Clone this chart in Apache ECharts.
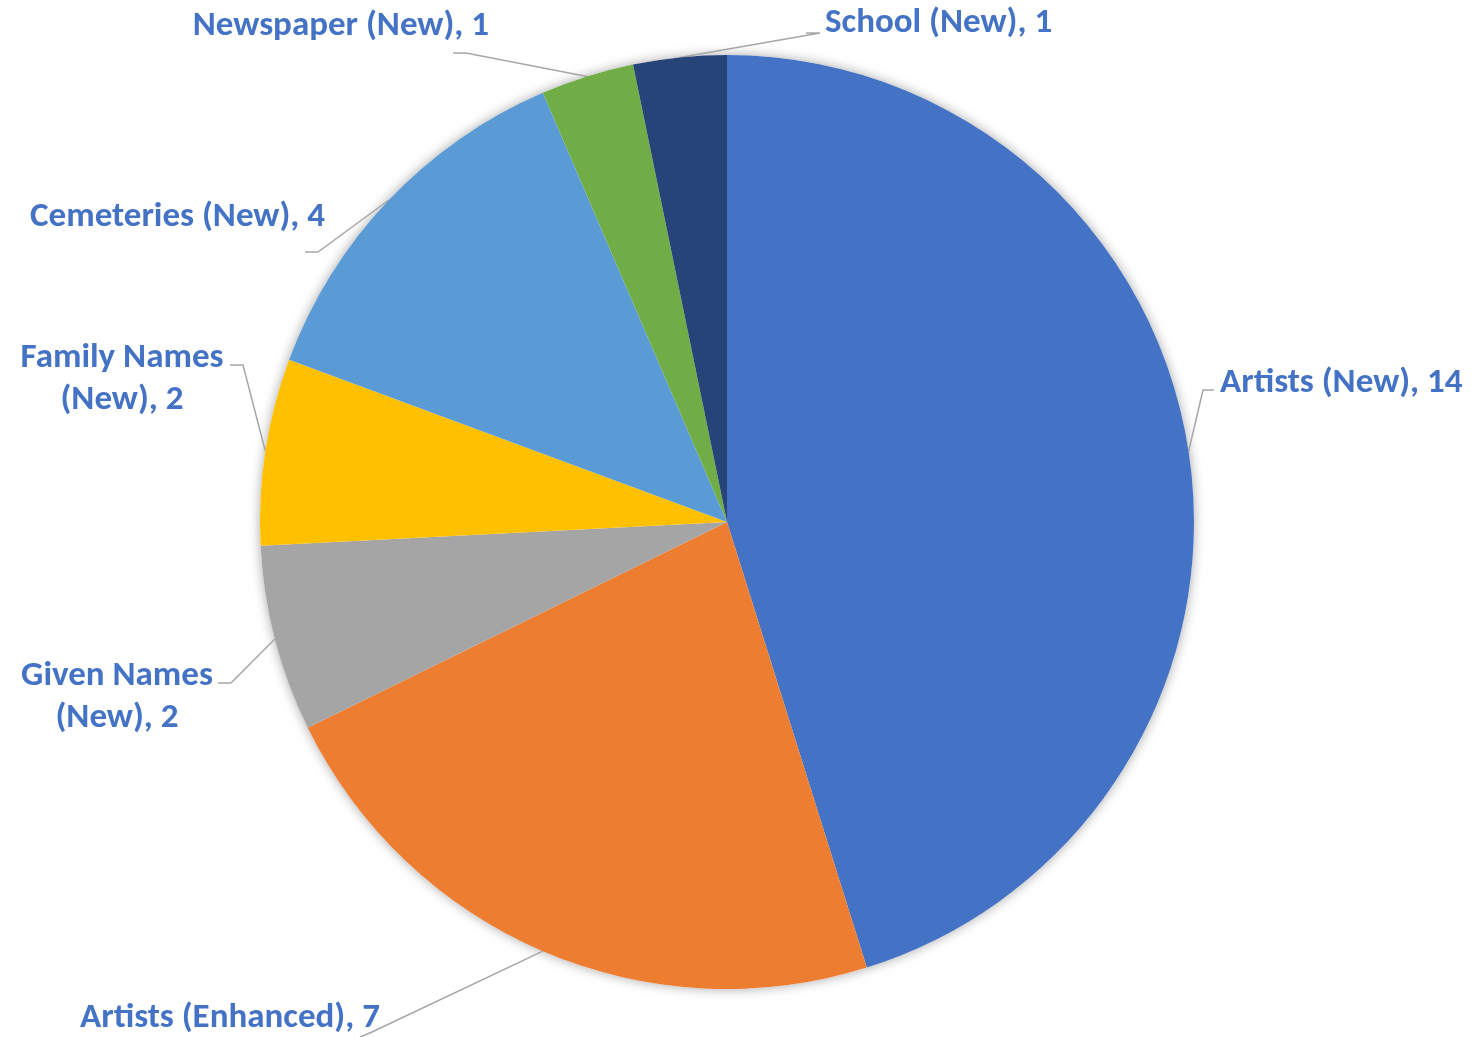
<!DOCTYPE html>
<html>
<head>
<meta charset="utf-8">
<script src="https://cdn.jsdelivr.net/npm/echarts@6/dist/echarts.min.js"></script>
<style>
html,body{margin:0;padding:0;background:#fff;}
#chart{width:1484px;height:1037px;}
</style>
</head>
<body>
<div id="chart"></div>
<script>
const categories = ['Artists (New)', 'Artists (Enhanced)', 'Given Names (New)', 'Family Names (New)', 'Cemeteries (New)', 'Newspaper (New)', 'School (New)'];
const values = [14, 7, 2, 2, 4, 1, 1];
const colors = ['#4472C4', '#ED7D31', '#A5A5A5', '#FFC000', '#5B9BD5', '#70AD47', '#264478'];
const labelTexts = ['Artists (New), 14', 'Artists (Enhanced), 7', 'Given Names\n(New), 2', 'Family Names\n(New), 2', 'Cemeteries (New), 4', 'Newspaper (New), 1', 'School (New), 1'];

// label placement (layout only)
const labelPlace = [
  {x: 1220, y: 383, align: 'left',   bend: [1203, 390], end: [1214, 390]},
  {x: 80,   y: 1018, align: 'left',  bend: [372, 1032], end: [360, 1037]},
  {x: 117,  y: 697, align: 'center', bend: [231, 683], end: [218, 683]},
  {x: 122,  y: 379, align: 'center', bend: [243, 365], end: [230, 365]},
  {x: 325,  y: 217, align: 'right',  bend: [318, 252], end: [305, 252]},
  {x: 489,  y: 26,  align: 'right',  bend: [466, 53],  end: [453, 53]},
  {x: 825,  y: 23,  align: 'left',   bend: [820, 33],  end: [806, 33]}
];

const chart = echarts.init(document.getElementById('chart'));
const pieData = categories.map((c, i) => ({
  name: c, value: values[i], itemStyle: {color: colors[i]}
}));

chart.setOption({
  animation: false,
  series: [
    {
      type: 'pie', silent: true, z: 1,
      center: [727, 522], radius: 467,
      data: [{value: 1, name: '', itemStyle: {color: '#ffffff', shadowBlur: 12, shadowColor: 'rgba(0,0,0,0.35)'}}],
      label: {show: false}, labelLine: {show: false}
    },
    {
      type: 'pie', z: 2,
      center: [727, 522], radius: 467,
      startAngle: 90, clockwise: true,
      data: pieData,
      itemStyle: {borderWidth: 0},
      label: {
        show: true, position: 'outside',
        formatter: p => labelTexts[p.dataIndex],
        color: '#4472C4', fontSize: 35, fontWeight: 'bold',
        fontFamily: 'Carlito, Lato, "Open Sans", sans-serif',
        lineHeight: 42, overflow: 'none', width: 600
      },
      labelLine: {show: true, lineStyle: {color: '#A6A6A6', width: 1.5}},
      labelLayout: function (params) {
        const L = labelPlace[params.dataIndex];
        const p0 = params.labelLinePoints ? params.labelLinePoints[0] : L.bend;
        return {
          x: L.x, y: L.y, align: L.align, verticalAlign: 'middle',
          labelLinePoints: [p0, L.bend, L.end]
        };
      }
    }
  ]
});
</script>
</body>
</html>
